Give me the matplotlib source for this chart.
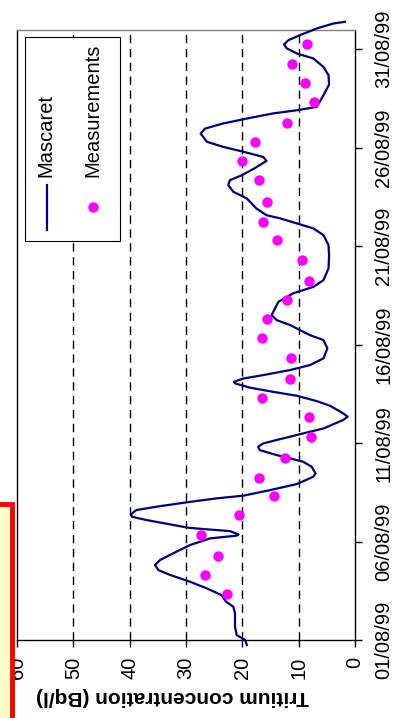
import numpy as np
import matplotlib
matplotlib.use('Agg')
import matplotlib.pyplot as plt
from matplotlib.patches import Rectangle
from matplotlib.lines import Line2D

# Tritium at the station, August 1999 (chart is drawn turned a quarter turn)

StartDate = np.datetime64('1999-08-01T00:00')
EndDate = np.datetime64('1999-09-01T00:00')

# Mascaret model: days after 01/08/99 and concentration (Bq/l)
ModelDays = [-0.25, 0.0, 0.25, 0.68, 1.35, 1.69, 1.95, 2.28, 2.62, 2.96, 3.30, 3.55, 3.81,
             4.06, 4.40, 4.82, 5.16, 5.30, 5.36, 5.53, 5.62, 5.70, 5.87, 6.09, 6.26, 6.38,
             6.60, 6.77, 6.99, 7.19, 7.33, 7.61, 7.92, 8.29, 8.46, 8.80, 9.05, 9.22, 9.39,
             9.64, 9.81, 9.98, 10.20, 10.49, 10.74, 11.17, 11.34, 11.51, 11.89, 12.13, 12.40,
             12.60, 12.81, 13.03, 13.11, 13.28, 13.45, 13.71, 13.96, 14.30, 14.81, 15.23,
             15.48, 15.74, 15.99, 16.24, 16.50, 16.67, 17.17, 17.60, 17.93, 18.27, 18.87,
             19.50, 20.05, 20.56, 20.90, 21.15, 21.41, 21.57, 21.91, 22.42, 22.76, 23.10,
             23.35, 23.60, 23.94, 24.33, 24.53, 24.79, 25.04, 25.30, 25.72, 25.97, 26.23,
             26.48, 26.74, 26.90, 27.07, 27.66, 28.20, 28.68, 29.10, 29.53, 29.78, 30.04,
             30.24, 30.46, 30.71, 31.05, 31.30, 31.39]
ModelConc = [19.2, 19.5, 21.0, 21.3, 21.3, 21.6, 22.9, 23.7, 26.3, 29.3, 32.8, 34.9, 35.5,
             34.6, 32.3, 29.3, 25.7, 21.0, 20.7, 22.2, 26.3, 29.6, 32.8, 37.0, 39.6, 39.8,
             38.8, 35.2, 29.9, 24.6, 19.8, 15.1, 10.3, 7.4, 7.0, 7.7, 9.2, 11.5, 13.9,
             16.9, 17.2, 16.3, 13.3, 9.2, 5.6, 2.1, 1.3, 2.1, 4.4, 6.8, 10.3,
             14.5, 18.6, 21.3, 21.5, 19.8, 16.3, 11.5, 8.0, 5.6, 4.9, 5.6,
             8.0, 9.8, 11.5, 13.9, 14.8, 14.5, 13.6, 11.0, 7.4, 5.6, 4.7,
             4.6, 4.7, 5.6, 7.4, 10.3, 13.3, 15.7, 17.5, 19.2, 21.6, 22.5,
             22.2, 20.1, 17.9, 15.7, 16.3, 19.8, 23.4, 26.3, 27.4, 26.6, 23.4,
             19.2, 14.5, 10.3, 6.8, 5.6, 4.6, 4.7, 5.6, 7.4, 10.3, 12.1,
             12.6, 11.8, 9.8, 6.8, 3.9, 1.8]

# Measurements
MeasDays = [2.34, 3.30, 4.28, 5.35, 6.33, 7.29, 8.24, 9.25, 10.32, 11.30, 12.28, 13.26,
            14.33, 15.31, 16.28, 17.26, 18.22, 19.30, 20.29, 21.25, 22.25, 23.34, 24.31,
            25.29, 26.26, 27.31, 28.29, 29.26, 30.24]
MeasConc = [22.7, 26.7, 24.3, 27.3, 20.6, 14.4, 17.0, 12.4, 7.8, 8.2, 16.5, 11.5,
            11.4, 16.5, 15.7, 12.1, 8.1, 9.4, 13.8, 16.4, 15.7, 17.0, 20.1,
            17.7, 12.1, 7.2, 8.8, 11.1, 8.5]

ConcTicks = [0, 10, 20, 30, 40, 50, 60]
GridConc = [10, 20, 30, 40, 50]
DateTicks = ['1999-08-01', '1999-08-06', '1999-08-11', '1999-08-16', '1999-08-21',
             '1999-08-26', '1999-08-31']
DateLabels = ['01/08/99', '06/08/99', '11/08/99', '16/08/99', '21/08/99', '26/08/99', '31/08/99']


def ToDates(Days):
    Minutes = np.round(np.array(Days) * 1440).astype(int)
    return StartDate + Minutes.astype('timedelta64[m]')


plt.rcParams['font.family'] = ['Liberation Sans', 'DejaVu Sans']

Navy = '#000080'
Magenta = '#FF00FF'

fig = plt.figure(figsize=(3.93, 7.18), dpi=100)
ax = fig.add_axes([17/393, 78/718, 338/393, 610.5/718])

for g in GridConc:
    ax.axvline(g, color='black', lw=1, dashes=(6, 4), zorder=1)

ax.plot(ModelConc, ToDates(ModelDays), color=Navy, lw=1.6, clip_on=False, zorder=3)
ax.plot(MeasConc, ToDates(MeasDays), 'o', color=Magenta, ms=7.5, mec='none', zorder=4)

ax.set_xlim(60, 0)
ax.set_ylim(StartDate, EndDate)

ax.set_xticks(ConcTicks)
ax.set_xticklabels([str(c) for c in ConcTicks], rotation=90, fontsize=14.5)
ax.yaxis.tick_right()
ax.set_yticks([np.datetime64(d) for d in DateTicks])
ax.set_yticklabels(DateLabels, rotation=90, va='center', fontsize=14.5)
ax.tick_params(axis='x', direction='out', length=5, width=1, pad=7)
ax.tick_params(axis='y', direction='out', length=5, width=1, pad=9)

for s in ax.spines.values():
    s.set_linewidth(1)
ax.spines['top'].set_color('#808080')

ax.set_xlabel('Tritium concentration (Bq/l)', fontsize=15, fontweight='bold', rotation=180)
ax.xaxis.set_label_coords(0.46, -0.0765)

# Legend box, drawn by hand so that it turns with the chart
ax.add_patch(Rectangle((0.0237, 0.6536), 0.281, 0.334, transform=ax.transAxes,
                       facecolor='white', edgecolor='black', lw=0.8, zorder=5))
ax.add_line(Line2D([0.0897, 0.0897], [0.6716, 0.7453], transform=ax.transAxes,
                   color=Navy, lw=1.6, zorder=6))
ax.plot([0.224], [0.7088], 'o', transform=ax.transAxes, color=Magenta, ms=7.5,
        mec='none', zorder=6)
ax.text(0.0852, 0.7584, 'Mascaret', rotation=90, ha='center', va='bottom',
        transform=ax.transAxes, fontsize=14.5, zorder=6)
ax.text(0.2234, 0.7584, 'Measurements', rotation=90, ha='center', va='bottom',
        transform=ax.transAxes, fontsize=14.5, zorder=6)

# Clipped yellow box with red edge at the lower left
fig.add_artist(Rectangle((-0.05, -0.05), 0.05 + 12.5/393, 0.05 + (718 - 503.5)/718,
                         transform=fig.transFigure, facecolor='#FFFFCC',
                         edgecolor='red', lw=3.5, zorder=10))

fig.savefig('out.png', dpi=100)
